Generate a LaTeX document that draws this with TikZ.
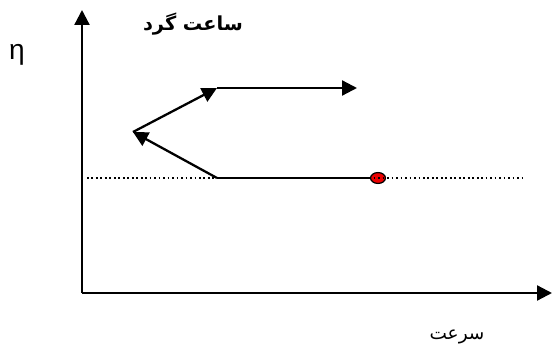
\documentclass[tikz,border=0pt]{standalone}
\usepackage{fontspec}
\setmainfont{Liberation Sans}
\newfontfamily\arabicfont[Script=Arabic]{DejaVu Sans}
\TeXXeTstate=1
\usetikzlibrary{arrows.meta, positioning, shapes.geometric}
\definecolor{axisblack}{RGB}{0, 0, 0}
\definecolor{pointred}{RGB}{235, 0, 0}
\tikzset{
  axis/.style={-{Triangle[length=8.5pt, width=8.5pt]}, line width=1.3pt, color=axisblack},
  vec/.style={-{Triangle[length=8.5pt, width=8.5pt]}, line width=1.3pt, color=axisblack},
  refline/.style={line width=1pt, dash pattern=on 1pt off 1.55pt},
  opline/.style={line width=1.1pt},
  oppoint/.style={ellipse, draw, line width=0.7pt, fill=pointred, minimum width=8.5pt, minimum height=6.2pt, inner sep=0pt},
  lbl/.style={inner sep=0pt, font=\arabicfont},
}

\begin{document}
\begin{tikzpicture}[x=0.02cm, y=-0.02cm]
        \useasboundingbox (0,0) rectangle (552,352);
        % axes
        \coordinate (origin) at (82,293);
        \coordinate (ytip) at (82,10);
        \coordinate (xtip) at (552,293);
        \draw[axis] (origin) -- (ytip);
        \draw[axis] (origin) -- (xtip);
        % reference line and operating point
        \coordinate (refstart) at (87,178);
        \coordinate (refend) at (525,178);
        \coordinate (start) at (217,178);
        \node[oppoint] (point) at (378,178) {};
        \draw[refline] (refstart) -- (refend);
        \draw[opline] (start) -- (point.west);
        % path of the vectors
        \coordinate (turn) at (133,132);
        \coordinate (upper) at (217,88);
        \coordinate (upperend) at (357,88);
        \draw[vec] (start) -- (turn);
        \draw[vec] (turn) -- (upper);
        \draw[vec] (upper) -- (upperend);
        % labels
        \node[inner sep=0pt, font=\fontsize{16}{16}\selectfont] (eta) at (17,55) {η};
        \node[lbl, font=\arabicfont\fontsize{11}{11}\selectfont\bfseries] (title) at (193,24) {\beginR ساعت گرد\endR};
        \node[lbl, font=\arabicfont\fontsize{10.5}{10.5}\selectfont] (speed) at (457,337) {\beginR سرعت\endR};
\end{tikzpicture}
\end{document}
